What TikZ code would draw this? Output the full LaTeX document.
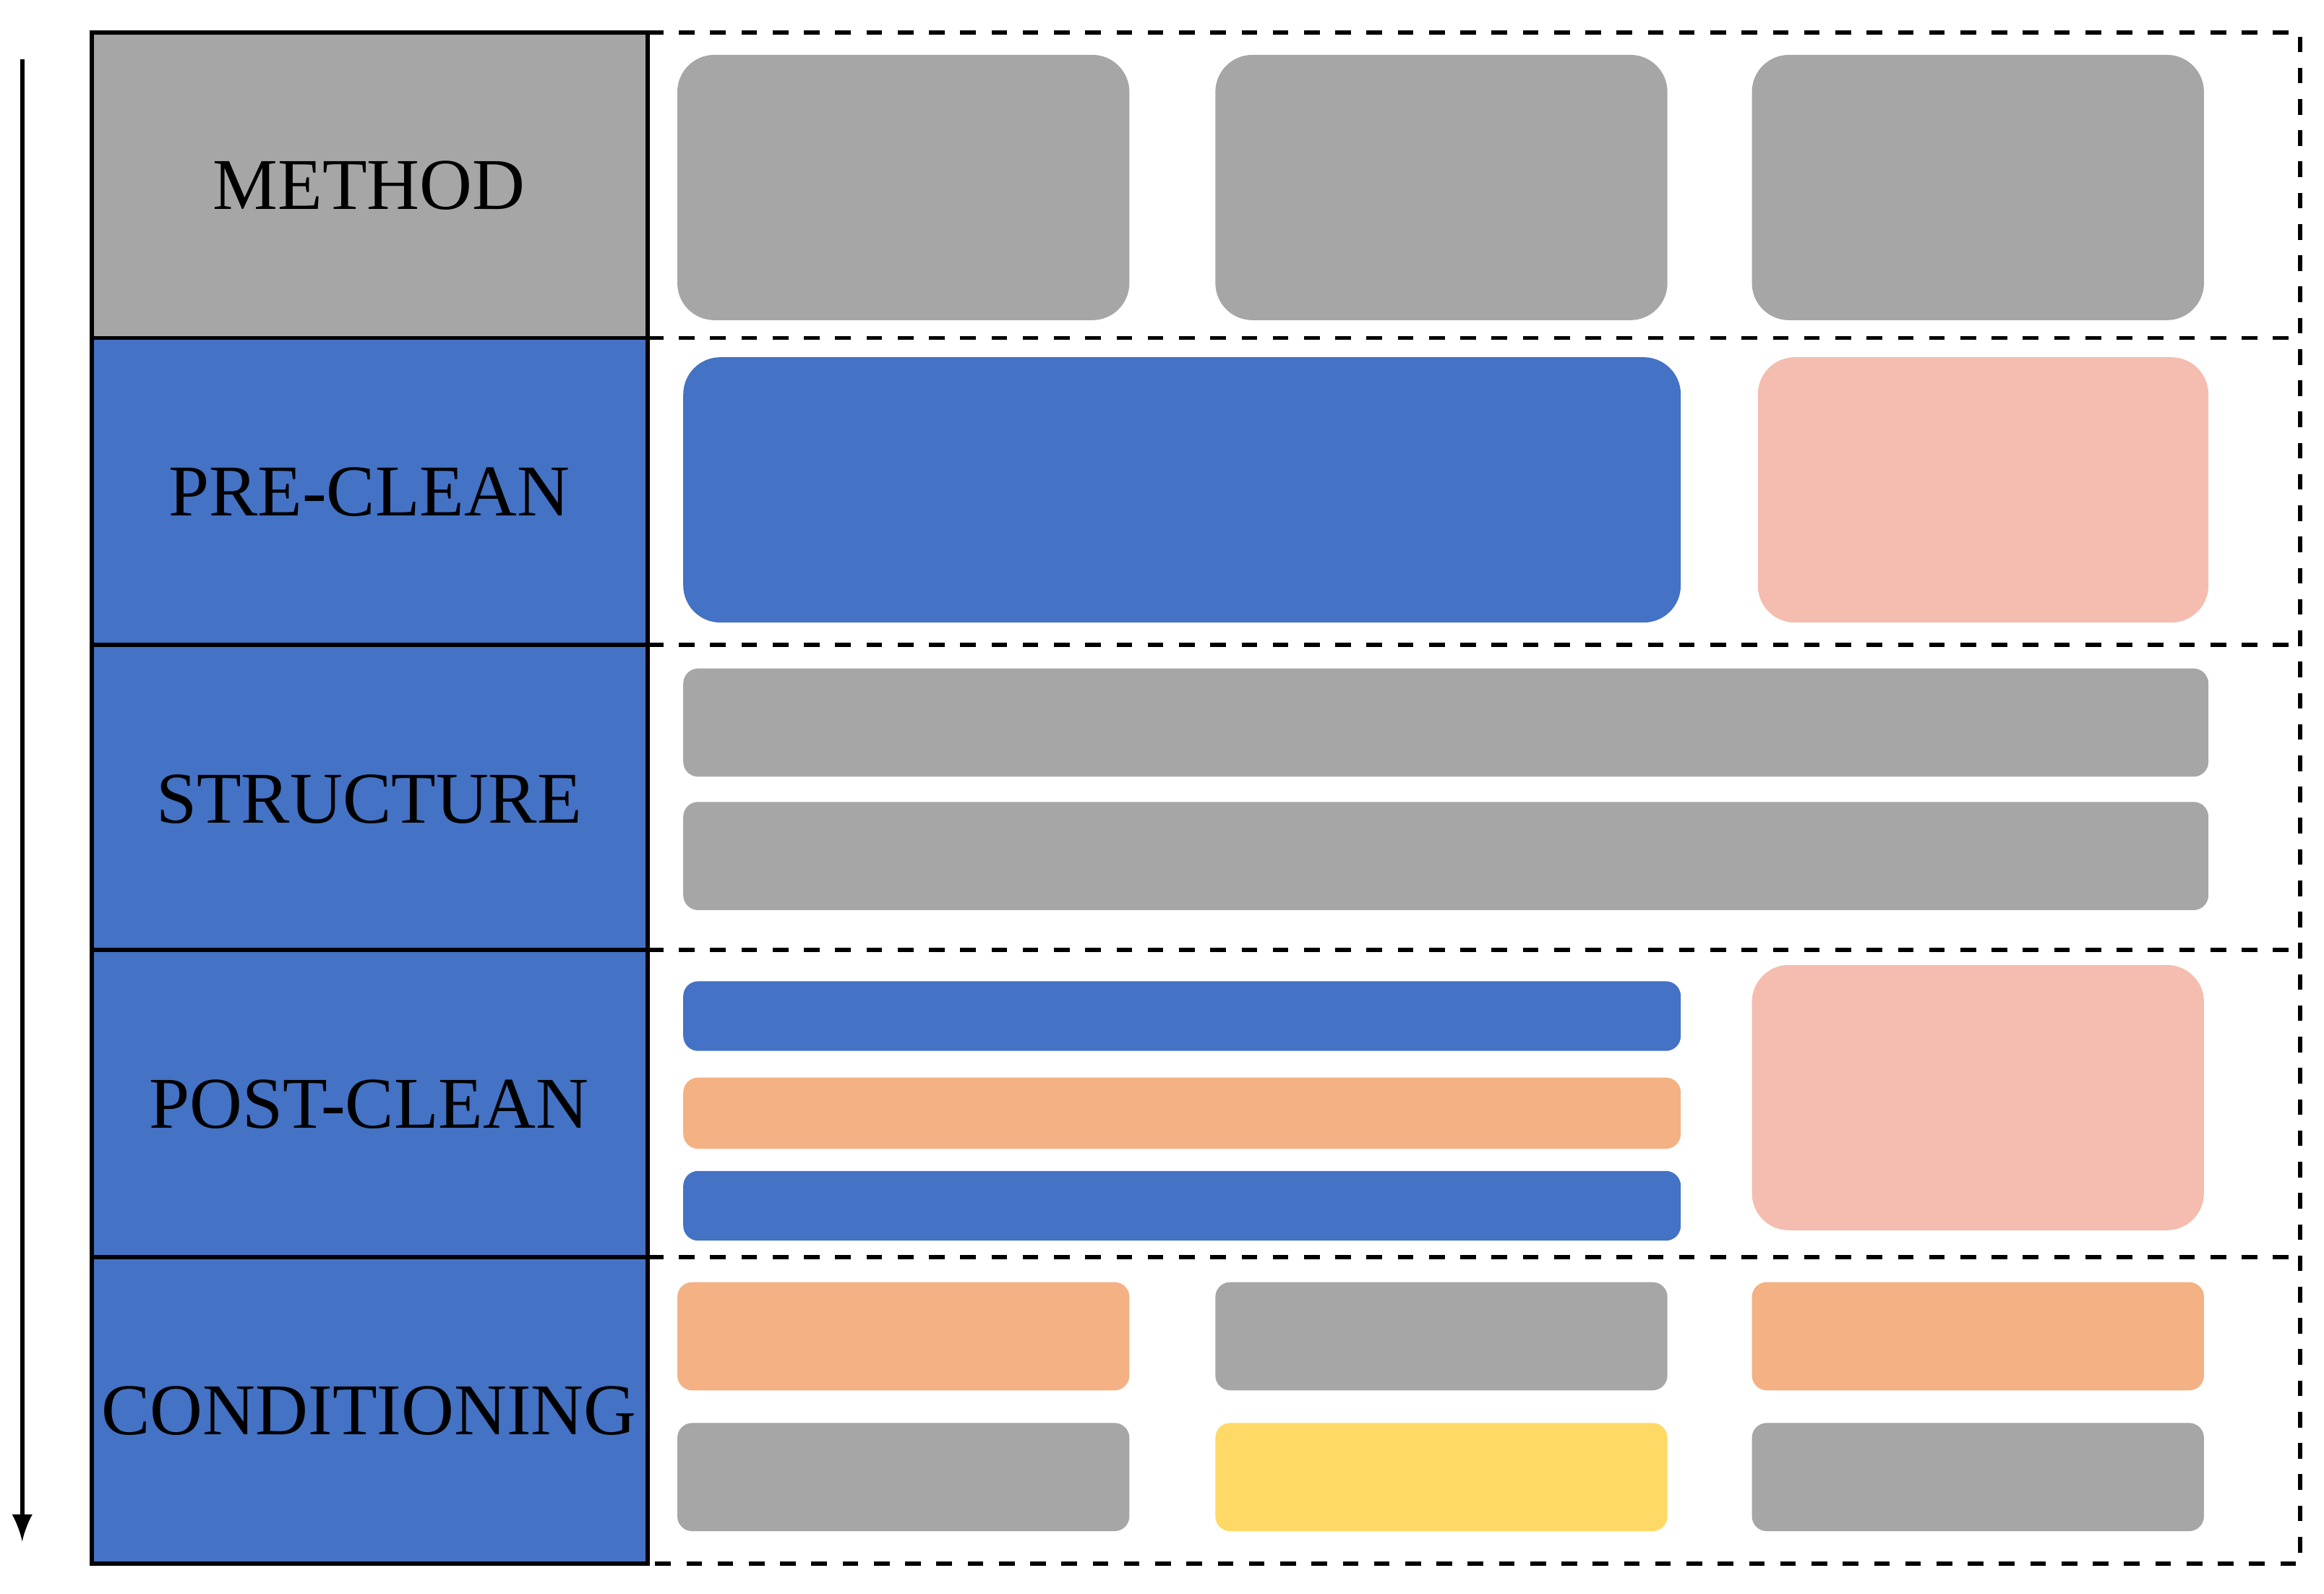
\documentclass[tikz,border=0pt]{standalone}
\usepackage{fontspec}
\setmainfont{Liberation Serif}
\definecolor{gr}{HTML}{A6A6A6}
\definecolor{bl}{HTML}{4472C4}
\definecolor{pk}{HTML}{F4BDB0}
\definecolor{og}{HTML}{F4B183}
\definecolor{yl}{HTML}{FFD966}
\begin{document}
\begin{tikzpicture}[x=0.1mm,y=-0.1mm,font=\fontsize{14pt}{16pt}\selectfont,
  big/.style={rounded corners=2.5mm},
  thin/.style={rounded corners=1mm}]
\useasboundingbox (0,0) rectangle (1568,1075);
% left column
\fill[gr] (62,22) rectangle (437,228);
\fill[bl] (62,228) rectangle (437,1055);
\draw[thick] (62,22) rectangle (437,1055);
\foreach \y in {228,435,641,848} \draw[thick] (62,\y) -- (437,\y);
\foreach \y/\t [count=\i] in {125/METHOD,332/PRE-CLEAN,539/STRUCTURE,745/POST-CLEAN,952/CONDITIONING}
  \node (L\i) at (249,\y) {\t};
% dashed area
\draw[dashed,thick] (437,22) -- (1552,22) -- (1552,1055) -- (437,1055);
\foreach \y in {228,435,641,848} \draw[dashed,thick] (437,\y) -- (1552,\y);
% arrow
\coordinate (a1) at (15,40); \coordinate (a2) at (15,1040);
\draw[-latex,thick] (a1) -- (a2);
% method
\fill[gr,big] (457,37) rectangle node (m1) {RCA} (762,216);
\fill[gr,big] (820,37) rectangle node (m2) {PE} (1125,216);
\fill[gr,big] (1182,37) rectangle node (m3) {Ozone} (1487,216);
% pre-clean
\fill[bl,big] (461,241) rectangle node (p1) {RCA1} (1134,420);
\fill[pk,big] (1186,241) rectangle node (p2) {O$_3$} (1490,420);
% structure
\fill[gr,thin] (461,451) rectangle node (s1) {SDR} (1490,524);
\fill[gr,thin] (461,541) rectangle node (s2) {Tex} (1490,614);
% post
\fill[bl,thin] (461,662) rectangle node (q1) {RCA1} (1134,709);
\fill[og,thin] (461,727) rectangle node (q2) {DHF} (1134,775);
\fill[bl,thin] (461,790) rectangle node (q3) {RCA2} (1134,837);
\fill[pk,big] (1182,651) rectangle node (q4) {O$_3$/HCl/HF} (1487,830);
% conditioning
\fill[og,thin] (457,865) rectangle node (c1) {DHF} (762,938);
\fill[gr,thin] (820,865) rectangle node (c2) {Dry} (1125,938);
\fill[og,thin] (1182,865) rectangle node (c3) {DHF} (1487,938);
\fill[gr,thin] (457,960) rectangle node (c4) {Dry} (762,1033);
\fill[yl,thin] (820,960) rectangle node (c5) {PE} (1125,1033);
\fill[gr,thin] (1182,960) rectangle node (c6) {Dry} (1487,1033);
\end{tikzpicture}
\end{document}
